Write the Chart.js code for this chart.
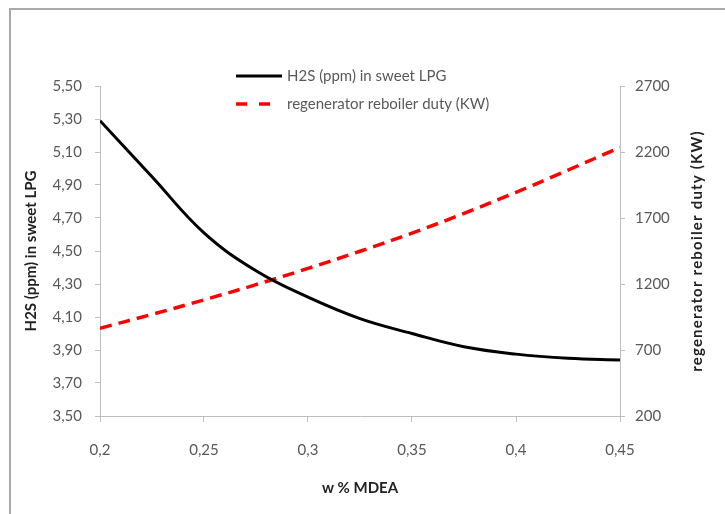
<!DOCTYPE html>
<html>
<head>
<meta charset="utf-8">
<script src="https://cdn.jsdelivr.net/npm/chart.js@4.4.1/dist/chart.umd.min.js"></script>
<style>
    body { margin: 0; background: #fff; }
    #wrap { position: relative; width: 725px; height: 514px; overflow: hidden; }
    #marco { position: absolute; left: 9px; top: 8px; width: 740px; height: 530px;
             border-top: 2px solid #a9a9a9; border-left: 2px solid #a9a9a9; }
    #grafico { position: absolute; left: 0; top: 0; }
</style>
</head>
<body>
<div id="wrap">
    <div id="marco"></div>
    <canvas id="grafico" width="725" height="514"></canvas>
</div>
<script>
// valores
const wMdea = [0.2, 0.225, 0.25, 0.275, 0.3, 0.325, 0.35, 0.375, 0.4, 0.425, 0.45];
const h2sPpm = [5.29, 4.95, 4.61, 4.38, 4.22, 4.09, 4.00, 3.92, 3.875, 3.85, 3.84];
const dutyKw = [865, 970, 1080, 1195, 1318, 1448, 1585, 1735, 1895, 2063, 2235];

const labelH2s = 'H2S (ppm) in sweet LPG';
const labelDuty = 'regenerator reboiler duty (KW)';
const tituloX = 'w % MDEA';

const fonte = 'Lato';
const corTexto = '#595959';
const corTitulo = '#222';
const corEixo = '#bfbfbf';

function virgula(v, casas) {
    if (casas !== undefined) return v.toFixed(casas).replace('.', ',');
    return String(Number(v.toFixed(3))).replace('.', ',');
}

// legenda desenhada dentro da area do grafico, como no original
const legendaPlugin = {
    id: 'legendaInterna',
    afterDatasetsDraw(chart) {
        const ctx = chart.ctx;
        const ds = chart.data.datasets;
        const x0 = 236;
        const linhas = [76, 104];
        ctx.save();
        ctx.font = '15px ' + fonte;
        ctx.textBaseline = 'middle';
        ctx.textAlign = 'left';
        for (var i = 0; i < ds.length; i++) {
            const y = linhas[i];
            ctx.strokeStyle = ds[i].borderColor;
            ctx.lineWidth = ds[i].borderWidth;
            ctx.beginPath();
            if (ds[i].borderDash) {
                ctx.moveTo(x0, y); ctx.lineTo(x0 + 11, y);
                ctx.moveTo(x0 + 23, y); ctx.lineTo(x0 + 34, y);
            } else {
                ctx.moveTo(x0, y); ctx.lineTo(x0 + 46, y);
            }
            ctx.stroke();
            ctx.fillStyle = corTexto;
            ctx.fillText(ds[i].label, x0 + 51, y);
        }
        ctx.restore();
    }
};

// titulo do eixo direito lido de baixo para cima (o Chart.js gira ao contrario)
const tituloDireitoPlugin = {
    id: 'tituloDireito',
    afterDraw(chart) {
        const ctx = chart.ctx;
        const area = chart.chartArea;
        ctx.save();
        ctx.translate(697, (area.top + area.bottom) / 2);
        ctx.rotate(-Math.PI / 2);
        ctx.font = 'bold 15px ' + fonte;
        ctx.letterSpacing = '1.2px';
        ctx.fillStyle = corTitulo;
        ctx.textAlign = 'center';
        ctx.textBaseline = 'middle';
        ctx.fillText(labelDuty, 0, 0);
        ctx.restore();
    }
};

const data = {
    datasets: [
        {
            label: labelH2s,
            data: wMdea.map((x, i) => ({ x: x, y: h2sPpm[i] })),
            yAxisID: 'y',
            borderColor: '#000000',
            backgroundColor: '#000000',
            borderWidth: 3,
            pointRadius: 0,
            tension: 0.4
        },
        {
            label: labelDuty,
            data: wMdea.map((x, i) => ({ x: x, y: dutyKw[i] })),
            yAxisID: 'y1',
            borderColor: '#ff0000',
            backgroundColor: '#ff0000',
            borderWidth: 3.5,
            borderDash: [12, 7],
            pointRadius: 0,
            tension: 0.4
        }
    ]
};

const config = {
    type: 'line',
    data: data,
    plugins: [legendaPlugin, tituloDireitoPlugin],
    options: {
        responsive: false,
        animation: false,
        layout: { padding: { top: 86, left: 0, right: 0, bottom: 0 } },
        plugins: {
            legend: { display: false },
            tooltip: { enabled: false }
        },
        scales: {
            x: {
                type: 'linear',
                min: 0.2,
                max: 0.45,
                afterFit: function (s) { s.height = 98; },
                ticks: {
                    stepSize: 0.05,
                    color: corTexto,
                    font: { family: fonte, size: 15 },
                    padding: 19,
                    maxRotation: 0,
                    callback: function (v) { return virgula(v); }
                },
                grid: { drawOnChartArea: false, drawTicks: true, tickLength: 6, color: corEixo },
                border: { color: corEixo, width: 1 },
                title: {
                    display: true,
                    text: tituloX,
                    color: corTitulo,
                    font: { family: fonte, size: 15, weight: 'bold' },
                    padding: { top: 0, bottom: 17 }
                }
            },
            y: {
                type: 'linear',
                position: 'left',
                min: 3.5,
                max: 5.5,
                afterFit: function (s) { s.width = 100; },
                ticks: {
                    stepSize: 0.2,
                    color: corTexto,
                    font: { family: fonte, size: 15 },
                    padding: 13,
                    callback: function (v) { return virgula(v, 2); }
                },
                grid: { drawOnChartArea: false, drawTicks: true, tickLength: 5, color: corEixo },
                border: { color: corEixo, width: 1 },
                title: {
                    display: true,
                    text: labelH2s,
                    color: corTitulo,
                    font: { family: fonte, size: 15, weight: 'bold' },
                    padding: { top: 22, bottom: 0 }
                }
            },
            y1: {
                type: 'linear',
                position: 'right',
                min: 200,
                max: 2700,
                afterFit: function (s) { s.width = 105; },
                ticks: {
                    stepSize: 500,
                    color: corTexto,
                    font: { family: fonte, size: 15 },
                    padding: 10,
                    callback: function (v) { return String(v); }
                },
                grid: { drawOnChartArea: false, drawTicks: true, tickLength: 5, color: corEixo },
                border: { color: corEixo, width: 1 },
                title: { display: false }
            }
        }
    }
};

const grafico = new Chart(document.getElementById('grafico'), config);
</script>
</body>
</html>
